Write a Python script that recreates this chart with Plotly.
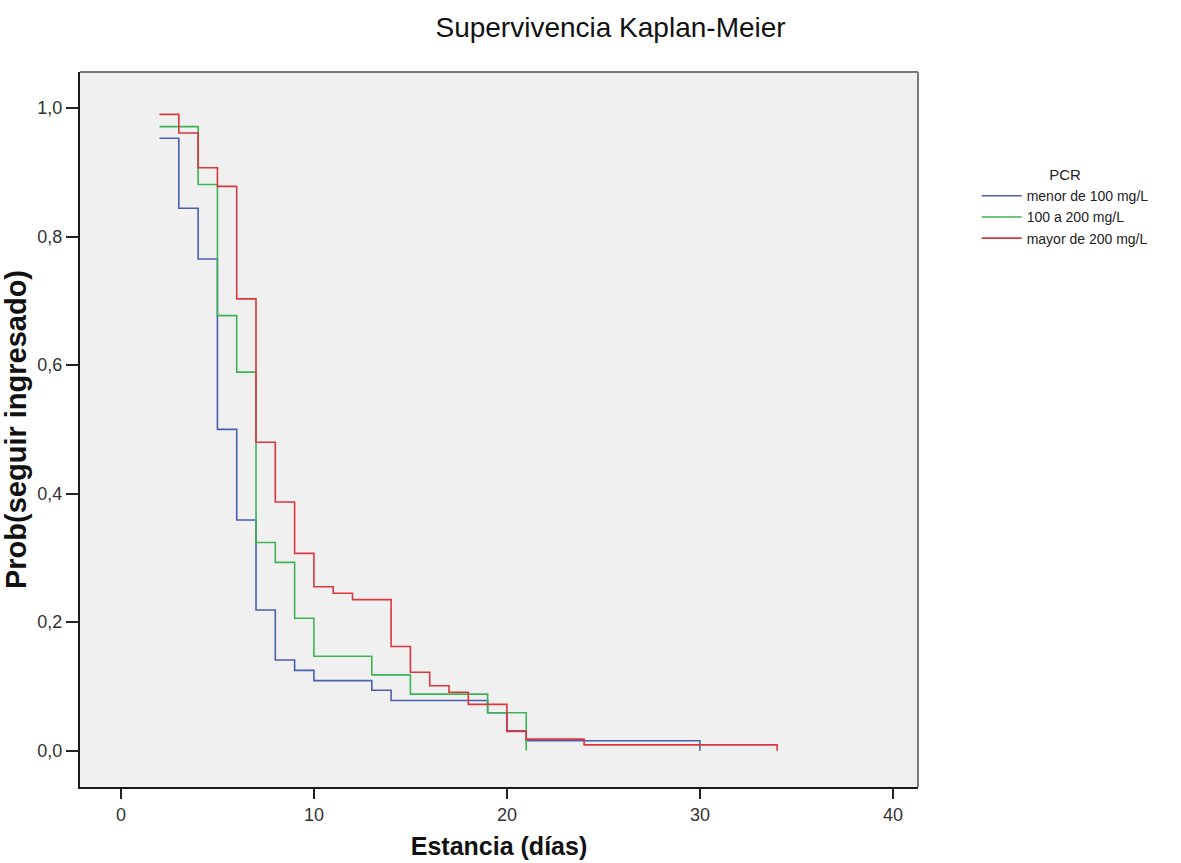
import plotly.graph_objects as go

# Data
blue_x = [2, 3, 4, 5, 6, 7, 8, 9, 10, 13, 14, 19, 20, 21, 30]
blue_y = [0.953, 0.844, 0.765, 0.500, 0.359, 0.219, 0.141, 0.125, 0.109, 0.094, 0.078, 0.059, 0.031, 0.0155, 0.0]

green_x = [2, 4, 5, 6, 7, 8, 9, 10, 13, 15, 19, 21]
green_y = [0.971, 0.881, 0.677, 0.589, 0.324, 0.293, 0.206, 0.147, 0.118, 0.088, 0.059, 0.0]

red_x = [2, 3, 4, 5, 6, 7, 8, 9, 10, 11, 12, 14, 15, 16, 17, 18, 20, 21, 24, 34]
red_y = [0.990, 0.961, 0.907, 0.878, 0.703, 0.480, 0.387, 0.307, 0.255, 0.245, 0.235,
         0.162, 0.122, 0.101, 0.091, 0.072, 0.030, 0.018, 0.009, 0.0]

names = ["menor de 100 mg/L", "100 a 200 mg/L", "mayor de 200 mg/L"]
colors = ["#4a5fae", "#3cb554", "#d9363e"]

x_ticks = [0, 10, 20, 30, 40]
y_ticks = [0, 0.2, 0.4, 0.6, 0.8, 1.0]

fig = go.Figure()
series = [(blue_x, blue_y), (green_x, green_y), (red_x, red_y)]
for (xs, ys), nm, c in zip(series, names, colors):
    fig.add_trace(go.Scatter(x=xs, y=ys, mode="lines", line=dict(color=c, width=1.6, shape="hv"),
                             name=nm))

font = "Liberation Sans, Arial, sans-serif"
fig.update_layout(
    width=1181, height=863,
    margin=dict(l=80, r=263, t=72, b=76),
    paper_bgcolor="white", plot_bgcolor="#f0f0f0",
    separators=",.",
    font=dict(family=font, size=14, color="#222"),
    title=dict(text="Supervivencia Kaplan-Meier", x=0.517, xanchor="center",
               y=0.968, yanchor="middle", font=dict(size=28, color="#111")),
    legend=dict(x=1.07, y=0.876, xanchor="left", yanchor="top",
                title=dict(text="PCR", side="top center", font=dict(size=15)),
                font=dict(size=14), bgcolor="rgba(0,0,0,0)", tracegroupgap=0,
                itemwidth=40),
    shapes=[
        dict(type="line", xref="paper", yref="paper", x0=0, x1=1, y0=1, y1=1,
             line=dict(color="#7a7a7a", width=2), layer="above"),
        dict(type="line", xref="paper", yref="paper", x0=1, x1=1, y0=0, y1=1,
             line=dict(color="#7a7a7a", width=2), layer="above"),
    ],
    xaxis=dict(range=[-2.12, 41.3], tickvals=x_ticks, showgrid=False, zeroline=False,
               ticks="outside", ticklen=10, tickwidth=2, tickcolor="#222",
               tickfont=dict(size=18, color="#333"), automargin=False,
               showline=True, linecolor="#1a1a1a", linewidth=2,
               title=dict(text="<b>Estancia (días)</b>", font=dict(size=25, color="#111"), standoff=14)),
    yaxis=dict(range=[-0.0565, 1.056], tickvals=y_ticks, tickformat=".1f",
               showgrid=False, zeroline=False, automargin=False,
               ticks="outside", ticklen=12, tickwidth=2, tickcolor="#222",
               tickfont=dict(size=18, color="#333"),
               showline=True, linecolor="#1a1a1a", linewidth=2,
               title=dict(text="<b>Prob(seguir ingresado)</b>", font=dict(size=29, color="#111"), standoff=10)),
)

fig.write_html("out.html")
